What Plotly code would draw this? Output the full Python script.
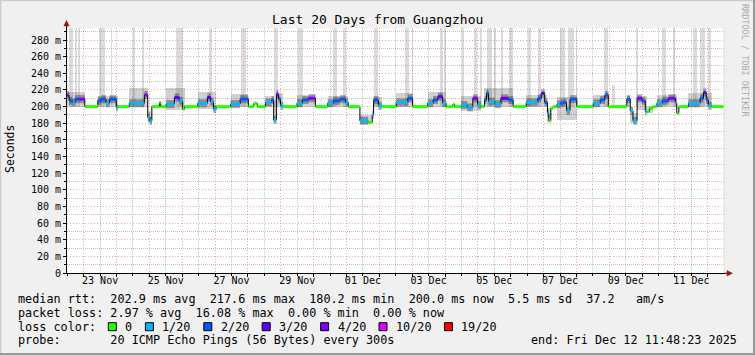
import plotly.graph_objects as go
import pandas as pd

END_TIME = pd.Timestamp("2025-12-12 11:48:23")
START_TIME = END_TIME - pd.Timedelta(days=20)

# ---- median rtt, piecewise: segment start (hours after START_TIME), value (ms), loss class index
seg_start_h = [0, 1.5, 4, 6, 9, 13, 22.5, 25, 28.5, 31,
               36, 37, 45.5, 56.5, 59, 60.5, 62, 67.5, 68.5, 72.5,
               78.5, 82, 84.5, 86, 95.5, 102.5, 105, 107, 109, 119.5,
               126.5, 132.5, 136.5, 139, 145, 149.5, 151, 153, 154.5, 156,
               158, 168, 172, 176.5, 181.5, 190.5, 194.5, 199.5, 203.5, 205.5,
               214, 220, 223, 224, 227.5, 230, 240.5, 249, 252.5, 263.5,
               267.5, 271, 274.5, 277, 282, 283, 288, 292.5, 296.5, 300,
               302.5, 305, 306.5, 308, 312.5, 317, 322.5, 326, 335.5, 344,
               346.5, 349, 351, 352, 353.5, 355, 358, 360.5, 362.5, 365,
               367.5, 372.5, 384.5, 389.5, 393, 395.5, 409, 411.5, 413.5, 416.5,
               420, 422.5, 423.5, 425.5, 428, 431, 435, 439.5, 444.5, 445.5,
               447, 454, 462.5, 465, 467, 468.5, 471]
seg_median = [214, 207, 205, 209, 209, 200, 207, 209, 204, 209,
              199, 200, 204, 214, 187, 183, 200, 205, 200, 203,
              211, 207, 197, 200, 204, 211, 206, 197, 200, 203,
              209, 200, 204, 200, 205, 208, 184, 215, 209, 201,
              200, 204, 208, 210, 200, 204, 207, 209, 205, 200,
              183, 181, 190, 208, 201, 200, 205, 210, 200, 204,
              208, 212, 204, 200, 203, 200, 202, 199, 210, 202,
              200, 208, 216, 206, 203, 210, 208, 200, 205, 210,
              216, 205, 192, 183, 198, 200, 203, 204, 205, 195,
              209, 200, 204, 208, 214, 200, 209, 195, 183, 210,
              207, 194, 194, 198, 200, 204, 207, 210, 205, 192,
              200, 204, 210, 217, 208, 201, 200]
seg_loss = [4, 2, 1, 2, 4, 0, 2, 2, 1, 2,
            1, 0, 1, 4, 1, 1, 0, 0, 0, 1,
            3, 1, 0, 0, 1, 3, 1, 1, 0, 1,
            2, 0, 0, 0, 1, 2, 1, 4, 2, 1,
            0, 1, 2, 4, 0, 1, 2, 2, 1, 0,
            1, 0, 1, 2, 1, 0, 1, 2, 0, 1,
            2, 3, 1, 0, 0, 0, 1, 1, 4, 1,
            0, 2, 2, 1, 1, 3, 2, 0, 1, 2,
            3, 2, 1, 0, 0, 0, 1, 2, 2, 1,
            2, 0, 1, 2, 2, 0, 2, 1, 1, 4,
            2, 1, 0, 0, 0, 1, 2, 4, 1, 0,
            0, 1, 2, 3, 2, 1, 0]

# ---- smoke (spread of the 20 pings) blocks
smoke_start_h = [0, 22.5, 45.5, 59, 72.5, 95.5, 119.5, 145, 151, 153,
                 168, 190.5, 214, 224, 240.5, 263.5, 288, 305, 335.5, 351,
                 358, 384.5, 409, 411.5, 416.5, 423.5, 431, 454]
smoke_end_h = [13, 37, 59, 62, 86, 109, 132.5, 151, 153, 158,
               181.5, 205.5, 223, 230, 252.5, 277, 302.5, 326, 351, 353.5,
               372.5, 395.5, 411.5, 416.5, 423.5, 428, 445.5, 471]
smoke_lo = [199, 200, 200, 180, 196, 197, 199, 199, 182, 200,
            200, 200, 179, 200, 199, 200, 195, 199, 200, 181,
            184, 200, 200, 180, 196, 192, 200, 199]
smoke_hi = [218, 213, 222, 195, 222, 218, 215, 213, 208, 216,
            214, 213, 190, 212, 216, 218, 213, 222, 214, 198,
            212, 214, 213, 192, 213, 201, 214, 216]

# ---- outlier pings (light smoke reaching far above the median)
spike_start_h = [1.3, 6.1, 8.3, 23.6, 32.0, 48.4, 55.0, 79.8, 104.0, 127.3,
                 151.4, 168.6, 194.5, 201.8, 224.1, 247.1, 251.8, 272.3, 275.6, 288.7,
                 297.5, 301.9, 307.0, 311.7, 317.2, 322.7, 336.9, 344.2, 360.3, 366.2,
                 371.6, 392.5, 398.3, 415.8, 434.8, 442.8, 457.4, 462.6, 468.4]
spike_end_h = [4.6, 7.5, 9.4, 28.0, 33.1, 49.5, 56.5, 84.6, 106.2, 131.0,
               154.4, 172.6, 197.4, 203.6, 227.4, 249.7, 252.9, 274.9, 276.7, 290.2,
               299.7, 303.3, 310.7, 313.6, 318.7, 326.0, 339.1, 346.4, 364.0, 370.5,
               372.7, 395.4, 400.5, 417.3, 437.7, 444.3, 460.4, 466.2, 470.6]
spike_top = [300, 300, 300, 300, 300, 300, 300, 300, 300, 300,
             300, 300, 300, 300, 300, 300, 300, 300, 300, 300,
             300, 300, 300, 300, 300, 300, 300, 300, 300, 300,
             300, 300, 226, 300, 300, 300, 300, 300, 300]

loss_labels = ["0", "1/20", "2/20", "3/20", "4/20", "10/20", "19/20"]
loss_colors = ["#26ff00", "#00b8ff", "#0059ff", "#5e00ff", "#7e00ff", "#dd00ff", "#ff0000"]

y_tick_vals = [0, 20, 40, 60, 80, 100, 120, 140, 160, 180, 200, 220, 240, 260, 280]
y_tick_text = ["0", "20 m", "40 m", "60 m", "80 m", "100 m", "120 m", "140 m",
               "160 m", "180 m", "200 m", "220 m", "240 m", "260 m", "280 m"]
y_minor_vals = [10, 30, 50, 70, 90, 110, 130, 150, 170, 190, 210, 230, 250, 270, 290]
x_label_dates = ["2025-11-23 12:00", "2025-11-25 12:00", "2025-11-27 12:00", "2025-11-29 12:00",
                 "2025-12-01 12:00", "2025-12-03 12:00", "2025-12-05 12:00", "2025-12-07 12:00",
                 "2025-12-09 12:00", "2025-12-11 12:00"]
x_label_text = ["23 Nov", "25 Nov", "27 Nov", "29 Nov", "01 Dec", "03 Dec", "05 Dec",
                "07 Dec", "09 Dec", "11 Dec"]

rtt_avg, rtt_max, rtt_min, rtt_now, rtt_sd, rtt_ams = 202.9, 217.6, 180.2, 200.0, 5.5, 37.2
loss_avg, loss_max, loss_min, loss_now = 2.97, 16.08, 0.00, 0.00
title_text = "Last 20 Days from Guangzhou"
probe_text = "20 ICMP Echo Pings (56 Bytes) every 300s"
end_text = "end: Fri Dec 12 11:48:23 2025"

# ------------------------------------------------------------------
W, H = 755, 355
ML, MR, MT, MB = 67, 31, 28, 82
PW, PH = W - ML - MR, H - MT - MB
MONO = "DejaVu Sans Mono"


def t(h):
    return START_TIME + pd.Timedelta(hours=h)


def px(xp):
    return (xp - ML) / PW


def py(yp):
    return (MT + PH - yp) / PH


fig = go.Figure()

# outlier spikes
sp_c = [t((a + b) / 2) for a, b in zip(spike_start_h, spike_end_h)]
sp_w = [(b - a) * 3600000 for a, b in zip(spike_start_h, spike_end_h)]
SPIKE_FLOOR = 200
fig.add_trace(go.Bar(x=sp_c, width=sp_w, base=[SPIKE_FLOOR] * len(sp_c),
                     y=[v - SPIKE_FLOOR for v in spike_top],
                     marker=dict(color="rgba(150,150,150,0.34)", line=dict(width=0)),
                     showlegend=False, hoverinfo="skip"))

# smoke
sm_c = [t((a + b) / 2) for a, b in zip(smoke_start_h, smoke_end_h)]
sm_w = [(b - a) * 3600000 for a, b in zip(smoke_start_h, smoke_end_h)]
fig.add_trace(go.Bar(x=sm_c, width=sm_w, base=smoke_lo,
                     y=[h - l for l, h in zip(smoke_lo, smoke_hi)],
                     marker=dict(color="rgba(90,90,90,0.28)", line=dict(width=0)),
                     showlegend=False, hoverinfo="skip"))

seg_end_h = seg_start_h[1:] + [480]

# darker smoke core around the median where pings were lost
cx, cy = [], []
for s, e, v, l in zip(seg_start_h, seg_end_h, seg_median, seg_loss):
    if l > 0:
        cx += [t(s), t(e), None]
        cy += [v, v, None]
fig.add_trace(go.Scatter(x=cx, y=cy, mode="lines", line=dict(color="rgba(60,60,60,0.45)", width=8),
                         showlegend=False, hoverinfo="skip"))

# median black step line
bx = [t(h) for h in seg_start_h] + [t(480)]
by = seg_median + [seg_median[-1]]
fig.add_trace(go.Scatter(x=bx, y=by, mode="lines", line=dict(color="black", width=1, shape="hv"),
                         showlegend=False, hoverinfo="skip"))

# coloured median segments by loss
for k, col in enumerate(loss_colors):
    xs, ys = [], []
    for s, e, v, l in zip(seg_start_h, seg_end_h, seg_median, seg_loss):
        if l == k:
            xs += [t(s), t(e), None]
            ys += [v, v, None]
    if xs:
        fig.add_trace(go.Scatter(x=xs, y=ys, mode="lines", line=dict(color=col, width=3),
                                 showlegend=False, hoverinfo="skip"))

# dummy trace for label axis
fig.add_trace(go.Scatter(x=[t(0)], y=[None], xaxis="x2", mode="lines",
                         showlegend=False, hoverinfo="skip"))

MGRID = "rgba(222,79,79,0.5)"
GRID = "rgba(143,143,143,0.55)"

fig.update_layout(
    width=W, height=H,
    margin=dict(l=ML, r=MR, t=MT, b=MB, pad=0),
    paper_bgcolor="#f0f0f0", plot_bgcolor="#ffffff",
    barmode="overlay", bargap=0,
    font=dict(family=MONO, color="black"),
    xaxis=dict(type="date", range=[START_TIME, END_TIME], showticklabels=False,
               tickmode="linear", tick0="2025-11-23 00:00", dtick=86400000,
               showgrid=True, gridcolor=MGRID, griddash="1px,2px", gridwidth=1,
               ticks="outside", ticklen=3, tickcolor="black", tickwidth=1,
               minor=dict(tickmode="linear", tick0="2025-11-23 00:00", dtick=43200000,
                          showgrid=True, gridcolor=GRID, griddash="1px,1px", gridwidth=1,
                          ticks="outside", ticklen=2, tickcolor="black"),
               showline=True, linecolor="black", linewidth=1, zeroline=False,
               automargin=False, fixedrange=True),
    xaxis2=dict(type="date", range=[START_TIME, END_TIME], overlaying="x", anchor="y", side="bottom",
                tickmode="array", tickvals=x_label_dates, ticktext=x_label_text,
                showgrid=False, ticks="", showline=False, zeroline=False,
                tickfont=dict(family=MONO, size=10, color="black"),
                automargin=False, fixedrange=True),
    yaxis=dict(range=[0, 294.5], tickmode="array", tickvals=y_tick_vals, ticktext=y_tick_text,
               showgrid=True, gridcolor=MGRID, griddash="1px,2px", gridwidth=1,
               minor=dict(tickmode="array", tickvals=y_minor_vals, showgrid=True,
                          gridcolor=GRID, griddash="1px,1px", gridwidth=1,
                          ticks="outside", ticklen=2, tickcolor="black"),
               ticks="outside", ticklen=3, tickcolor="black",
               tickfont=dict(family=MONO, size=10, color="black"),
               showline=True, linecolor="black", linewidth=1, zeroline=False,
               automargin=False, fixedrange=True),
)

ann = []
ann.append(dict(text=title_text, x=px(377.5), y=py(19.5), xanchor="center", yanchor="middle",
                font=dict(size=13)))
ann.append(dict(text="Seconds", x=px(10), y=py(149), xanchor="center", yanchor="middle",
                textangle=-90, font=dict(size=11.5)))
ann.append(dict(text="RRDTOOL / TOBI OETIKER", x=px(745), y=py(60), xanchor="center",
                yanchor="middle", textangle=90, font=dict(size=8.5, color="#aaaaaa")))

line1 = (f"median rtt:  {rtt_avg:.1f} ms avg  {rtt_max:.1f} ms max  {rtt_min:.1f} ms min  "
         f"{rtt_now:.1f} ms now  {rtt_sd:.1f} ms sd  {rtt_ams:.1f}   am/s")
line2 = (f"packet loss: {loss_avg:.2f} % avg  {loss_max:.2f} % max  {loss_min:.2f} % min  "
         f"{loss_now:.2f} % now")
line4 = f"probe:       {probe_text}"
LF = 11.8
rows_y = [299, 312.8, 326.6, 340.4]
for txt, yy in [(line1, rows_y[0]), (line2, rows_y[1]), ("loss color:", rows_y[2]), (line4, rows_y[3])]:
    ann.append(dict(text=txt.replace(" ", "&nbsp;"), x=px(16), y=py(yy), xanchor="left",
                    yanchor="middle", font=dict(size=LF)))
ann.append(dict(text=end_text.replace(" ", "&nbsp;"), x=px(738.5), y=py(rows_y[3]), xanchor="right",
                yanchor="middle", font=dict(size=LF)))

shapes = []
sx = 108.3
for lab, col in zip(loss_labels, loss_colors):
    shapes.append(dict(type="rect", xref="paper", yref="paper",
                       x0=px(sx), x1=px(sx + 8), y0=py(330.7), y1=py(322.7),
                       fillcolor=col, line=dict(color="black", width=1)))
    ann.append(dict(text=lab, x=px(sx + 15), y=py(rows_y[2]), xanchor="left", yanchor="middle",
                    font=dict(size=LF)))
    sx += 30 + 7.1 * len(lab)

for a in ann:
    a.update(xref="paper", yref="paper", showarrow=False)

# right edge marker line, axis arrows, frame
shapes.append(dict(type="line", xref="paper", yref="paper", x0=1, x1=1, y0=0, y1=1,
                   line=dict(color="#e6dfc2", width=1)))
ARROW = "#8b1a1a"
shapes.append(dict(type="line", xref="paper", yref="paper", x0=px(66.5), x1=px(66.5),
                   y0=1, y1=py(25), line=dict(color="black", width=1)))
shapes.append(dict(type="path", xref="paper", yref="paper",
                   path=f"M {px(63.8)} {py(26)} L {px(69.2)} {py(26)} L {px(66.5)} {py(20.5)} Z",
                   fillcolor=ARROW, line=dict(color=ARROW, width=0.5)))
shapes.append(dict(type="line", xref="paper", yref="paper", x0=1, x1=px(727.5),
                   y0=py(273.3), y1=py(273.3), line=dict(color="black", width=1)))
shapes.append(dict(type="path", xref="paper", yref="paper",
                   path=f"M {px(727)} {py(270.6)} L {px(727)} {py(276)} L {px(732.5)} {py(273.3)} Z",
                   fillcolor=ARROW, line=dict(color=ARROW, width=0.5)))
# 3D frame of the image
shapes.append(dict(type="line", xref="paper", yref="paper", x0=px(0), x1=px(755), y0=py(0.5), y1=py(0.5),
                   line=dict(color="#cbcbcb", width=1.5)))
shapes.append(dict(type="line", xref="paper", yref="paper", x0=px(0.5), x1=px(0.5), y0=py(0), y1=py(355),
                   line=dict(color="#cbcbcb", width=1.5)))
shapes.append(dict(type="line", xref="paper", yref="paper", x0=px(0), x1=px(755), y0=py(354), y1=py(354),
                   line=dict(color="#999999", width=2)))
shapes.append(dict(type="line", xref="paper", yref="paper", x0=px(754), x1=px(754), y0=py(0), y1=py(355),
                   line=dict(color="#999999", width=2)))

fig.update_layout(annotations=ann, shapes=shapes)
fig.write_html("out.html")
